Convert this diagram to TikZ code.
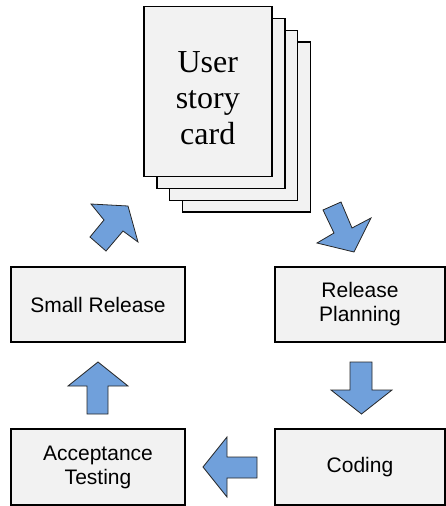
\documentclass[tikz,border=0pt]{standalone}
\usepackage{fontspec}
\setmainfont{Liberation Sans}
\newfontfamily\cardfont{Liberation Serif}
\definecolor{boxfill}{HTML}{F2F2F2}
\definecolor{arrowfill}{RGB}{112,160,219}
\begin{document}
\begin{tikzpicture}[x=1pt,y=-1pt,
  procbox/.style={draw=black,line width=1.5pt,fill=boxfill,align=center,
    font=\fontsize{21}{24}\selectfont,inner sep=0pt},
  cardbox/.style={draw=black,line width=1.5pt,fill=boxfill,minimum width=128pt,
    minimum height=170pt,inner sep=0pt,anchor=north west},
  blockarrow/.style={draw=black!85,line width=0.8pt,fill=arrowfill,line join=miter}]
\useasboundingbox (0,0) rectangle (445,506);
% cards
\node[cardbox] (card4) at (181.5,41) {};
\node[cardbox] (card3) at (168.5,29.5) {};
\node[cardbox] (card2) at (156,17.5) {};
\node[cardbox] (card1) at (143,5.5) {};
\node[align=center,font=\cardfont\fontsize{32}{36}\selectfont,inner sep=0pt]
  (ctext) at ([yshift=-7pt]card1.center) {User\\story\\card};
% boxes
\node[procbox,minimum width=174pt,minimum height=75pt] (sr) at (98,304.5) {Small Release};
\node[procbox,minimum width=170pt,minimum height=75pt] (rp) at (360,304.5) {Release\\Planning};
\node[procbox,minimum width=174pt,minimum height=76pt] (at) at (98,467) {Acceptance\\Testing};
\node[procbox,minimum width=170pt,minimum height=76pt] (cd) at (360,467) {Coding};
% arrows
\draw[blockarrow] (323,210) -- (341,202) -- (352,228) -- (371,218) -- (354,252) -- (317,243) -- (334,233) -- cycle;
\draw[blockarrow] (350,362) -- (372,362) -- (372,390) -- (392,390) -- (361.5,414) -- (331,390) -- (350,390) -- cycle;
\draw[blockarrow] (257,457) -- (257,478) -- (227,478) -- (227,497) -- (203,467) -- (227,437) -- (227,457) -- cycle;
\draw[blockarrow] (87,414) -- (87,386) -- (68,386) -- (98,362) -- (128,386) -- (108,386) -- (108,414) -- cycle;
\draw[blockarrow] (90,237) -- (104,220) -- (91,204) -- (128,206) -- (138,242) -- (123,231) -- (106,251) -- cycle;
\end{tikzpicture}
\end{document}
